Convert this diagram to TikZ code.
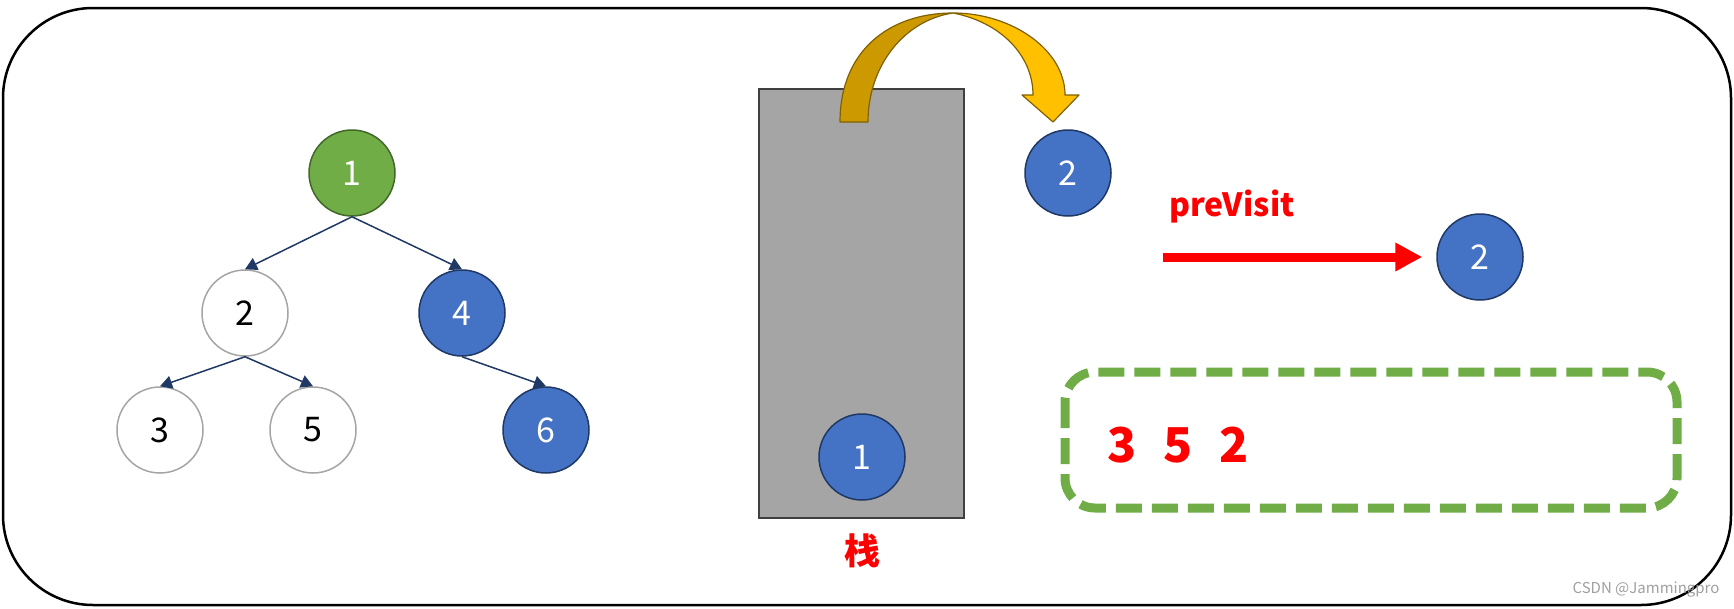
\documentclass[tikz,border=0pt]{standalone}
\usepackage{fontspec}
\setmainfont{Noto Sans CJK SC}
\usepackage{tikz}
\usetikzlibrary{arrows.meta}
\definecolor{officegreen}{HTML}{70AD47}
\definecolor{greenline}{HTML}{41672A}
\definecolor{officeblue}{HTML}{4472C4}
\definecolor{blueline}{HTML}{203864}
\definecolor{nodegray}{HTML}{A5A5A5}
\definecolor{edgenavy}{HTML}{1F3864}
\definecolor{stackgray}{HTML}{A5A5A5}
\definecolor{stackline}{HTML}{404040}
\definecolor{golddark}{HTML}{CC9A00}
\definecolor{goldlight}{HTML}{FFC000}
\definecolor{goldline}{HTML}{7F6000}
\definecolor{markgray}{HTML}{A0A0A0}

\begin{document}
\begin{tikzpicture}[x=1pt,y=-1pt,
  bnode/.style={circle,minimum size=86pt,inner sep=0pt,line width=1.5pt,font=\fontsize{34}{40}\selectfont},
  whitenode/.style={bnode,draw=nodegray,fill=white,text=black},
  greennode/.style={bnode,draw=greenline,fill=officegreen,text=white},
  bluenode/.style={bnode,draw=blueline,fill=officeblue,text=white},
  tedge/.style={draw=edgenavy,line width=1.5pt,-{Triangle[length=12pt,width=13pt]}}]
\useasboundingbox (0,0) rectangle (1734,608);
\draw[line width=2.5pt,rounded corners=90pt] (3,8) rectangle (1731,605);

% tree
\node[greennode] (t1) at (352,173) {1};
\node[whitenode] (t2) at (245,313) {2};
\node[bluenode] (t4) at (462,313) {4};
\node[whitenode] (t3) at (160,430) {3};
\node[whitenode] (t5) at (313,430) {5};
\node[bluenode] (t6) at (546,430) {6};
\draw[tedge] (t1.south) -- (t2.north);
\draw[tedge] (t1.south) -- (t4.north);
\draw[tedge] (t2.south) -- (t3.north);
\draw[tedge] (t2.south) -- (t5.north);
\draw[tedge] (t4.south) -- (t6.north);

% stack
\draw[fill=stackgray,draw=stackline,line width=2.5pt] (759,89) rectangle (964,518);
\node[bluenode] (s1) at (862,457) {1};
\node[text=red,font=\fontsize{36}{40}\selectfont\bfseries] (stacklabel) at (862,551) {栈};

% pop arrow
\fill[golddark,draw=goldline,line width=1.2pt,line join=round]
  (840,122) .. controls (840,50) and (890,13) .. (953,13)
  .. controls (905,20) and (868,65) .. (868,122) -- cycle;
\fill[goldlight,draw=goldline,line width=1.2pt,line join=round]
  (953,13) .. controls (1012,13) and (1065,50) .. (1065,95)
  -- (1079,95) -- (1053,122) -- (1022,95) -- (1033,95)
  .. controls (1033,55) and (1000,22) .. (953,13) -- cycle;
\node[bluenode] (p2) at (1068,173) {2};

% visit
\node[text=red,font=\fontsize{32}{36}\selectfont\bfseries] (visitlabel) at (1232,207) {preVisit};
\coordinate (visitstart) at (1163,257);
\node[bluenode] (out2) at (1480,257) {2};
\draw[red,line width=9pt,-{Triangle[length=27pt,width=27pt]}] (visitstart) -- ([xshift=-14pt]out2.west);

% output
\draw[officegreen,line width=9pt,dash pattern=on 26pt off 10pt,rounded corners=30pt] (1065,372) rectangle (1677,508);
\node[text=red,font=\fontsize{48}{52}\selectfont\bfseries] (result) at (1178,445) {3\hspace{27pt}5\hspace{27pt}2};

\node[text=markgray,font=\fontsize{15}{18}\selectfont] (mark) at (1646,590) {CSDN @Jammingpro};
\end{tikzpicture}
\end{document}
